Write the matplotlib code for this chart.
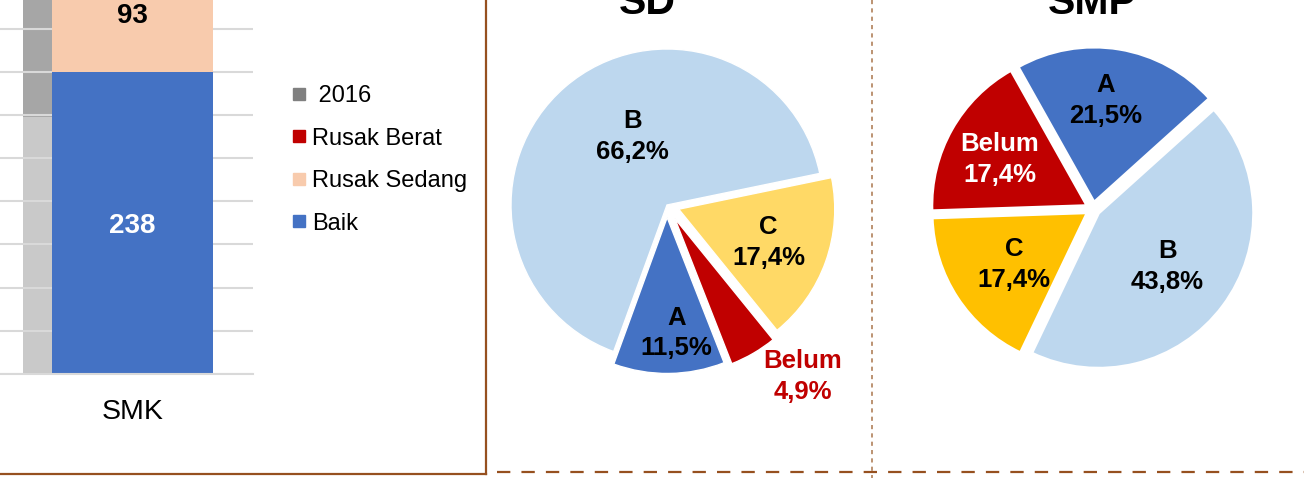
import numpy as np
import matplotlib
matplotlib.use("Agg")
from matplotlib import pyplot as plt
from matplotlib.lines import Line2D

plt.rcParams['font.family'] = ['Liberation Sans', 'DejaVu Sans']

# bar chart data (SMK)
categories = ['SMK']
baik = [238]
rusak_sedang = [93]
baik_2016 = [202]
sedang_2016 = [95]
legend_labels = [' 2016', 'Rusak Berat', 'Rusak Sedang', 'Baik']
legend_colors = ['#808080', '#c00000', '#f8cbad', '#4472c4']

# pie data
sd_labels = ['B', 'C', 'Belum', 'A']
sd_values = [66.2, 17.4, 4.9, 11.5]
sd_colors = ['#bdd7ee', '#ffd966', '#c00000', '#4472c4']
smp_labels = ['A', 'Belum', 'C', 'B']
smp_values = [21.5, 17.4, 17.4, 43.8]
smp_colors = ['#4472c4', '#c00000', '#ffc000', '#bdd7ee']

W, H = 1304, 478
fig = plt.figure(figsize=(W / 100, H / 100), dpi=100)


def px_rect(left, top, right, bottom):
    return [left / W, 1 - bottom / H, (right - left) / W, (bottom - top) / H]


def fx(x):
    return x / W


def fy(y):
    return 1 - y / H


# ---- stacked bar ----
ax = fig.add_axes(px_rect(0, 0, 253, 374))
x = np.arange(len(categories))
ax.bar(x - 0.59, baik_2016, width=0.18, color='#c9c9c9', zorder=0.3)
ax.bar(x - 0.59, sedang_2016, bottom=baik_2016, width=0.18, color='#a6a6a6', zorder=0.3)
ax.bar(x, baik, width=1.0, color='#4472c4', zorder=2)
ax.bar(x, rusak_sedang, bottom=baik, width=1.0, color='#f8cbad', zorder=2)
for i in range(len(categories)):
    ax.text(x[i], baik[i] / 2, str(baik[i]), ha='center', va='center_baseline',
            color='white', fontsize=20, fontweight='bold', zorder=3)
    ax.text(x[i], baik[i] + rusak_sedang[i] / 2, str(rusak_sedang[i]), ha='center',
            va='center_baseline', color='black', fontsize=20, fontweight='bold', zorder=3)
ax.set_xlim(-0.823, 0.748)
ax.set_ylim(0, 294.5)
ax.set_yticks(np.arange(0, 295, 34))
ax.set_yticklabels([])
ax.tick_params(axis='y', length=0)
ax.set_xticks(x)
ax.set_xticklabels(categories, fontsize=20.5)
ax.tick_params(axis='x', length=0, pad=18)
ax.yaxis.grid(True, color='#d9d9d9', lw=1.5, zorder=1)
for s in ['left', 'right', 'top']:
    ax.spines[s].set_visible(False)
ax.spines['bottom'].set_color('#d9d9d9')
ax.spines['bottom'].set_linewidth(1.5)

handles = [Line2D([], [], marker='s', ls='', color=c, markersize=9) for c in legend_colors]
fig.legend(handles, legend_labels, loc='upper left', bbox_to_anchor=(fx(292), fy(85)),
           frameon=False, fontsize=17, handlelength=0.6, handletextpad=0.25,
           labelspacing=0.87, borderpad=0, borderaxespad=0)

# ---- pies ----
def pie_axes(cx, cy, r):
    half = 1.4 * r
    return fig.add_axes(px_rect(cx - half, cy - half, cx + half, cy + half))


ax_sd = pie_axes(667, 205, 156)
ax_sd.pie(sd_values, colors=sd_colors, startangle=250, counterclock=False,
          explode=[0, 0.08, 0.1, 0.08], wedgeprops=dict(edgecolor='white', linewidth=1))
ax_sd.set_xlim(-1.4, 1.4)
ax_sd.set_ylim(-1.4, 1.4)
ax_sd.axis('off')
sd_pos = [(-0.22, 0.44), (0.65, -0.24), (0.87, -1.10), (0.06, -0.82)]
sd_tc = ['black', 'black', '#c00000', 'black']
for lab, v, (tx, ty), c in zip(sd_labels, sd_values, sd_pos, sd_tc):
    ax_sd.text(tx, ty, f"{lab}\n{v:.1f}%".replace('.', ','), ha='center', va='center',
               fontsize=18.5, fontweight='bold', color=c, linespacing=1.35)

ax_smp = pie_axes(1093, 209, 155)
ax_smp.pie(smp_values, colors=smp_colors, startangle=42, counterclock=True,
           explode=[0.045] * 4, wedgeprops=dict(edgecolor='white', linewidth=2))
ax_smp.set_xlim(-1.4, 1.4)
ax_smp.set_ylim(-1.4, 1.4)
ax_smp.axis('off')
smp_pos = [(0.08, 0.70), (-0.60, 0.32), (-0.51, -0.36), (0.48, -0.37)]
smp_tc = ['black', 'white', 'black', 'black']
for lab, v, (tx, ty), c in zip(smp_labels, smp_values, smp_pos, smp_tc):
    ax_smp.text(tx, ty, f"{lab}\n{v:.1f}%".replace('.', ','), ha='center', va='center',
                fontsize=18.5, fontweight='bold', color=c, linespacing=1.35)

fig.text(fx(647), fy(14), 'SD', ha='center', va='baseline', fontsize=29.5, fontweight='bold')
fig.text(fx(1092), fy(14), 'SMP', ha='center', va='baseline', fontsize=29.5, fontweight='bold')

# ---- frame lines ----
brown = '#96501f'
fig.add_artist(Line2D([fx(486), fx(486)], [fy(0), fy(474)], color=brown, lw=1.6))
fig.add_artist(Line2D([fx(0), fx(486)], [fy(473.5), fy(473.5)], color=brown, lw=1.6))
fig.add_artist(Line2D([fx(497), fx(1304)], [fy(472), fy(472)], color=brown, lw=1.6,
                      ls=(0, (6, 5))))
fig.add_artist(Line2D([fx(872), fx(872)], [fy(0), fy(478)], color='#b0805a', lw=1.2,
                      ls=(0, (2.5, 2.5))))

fig.savefig('out.png', dpi=100)
